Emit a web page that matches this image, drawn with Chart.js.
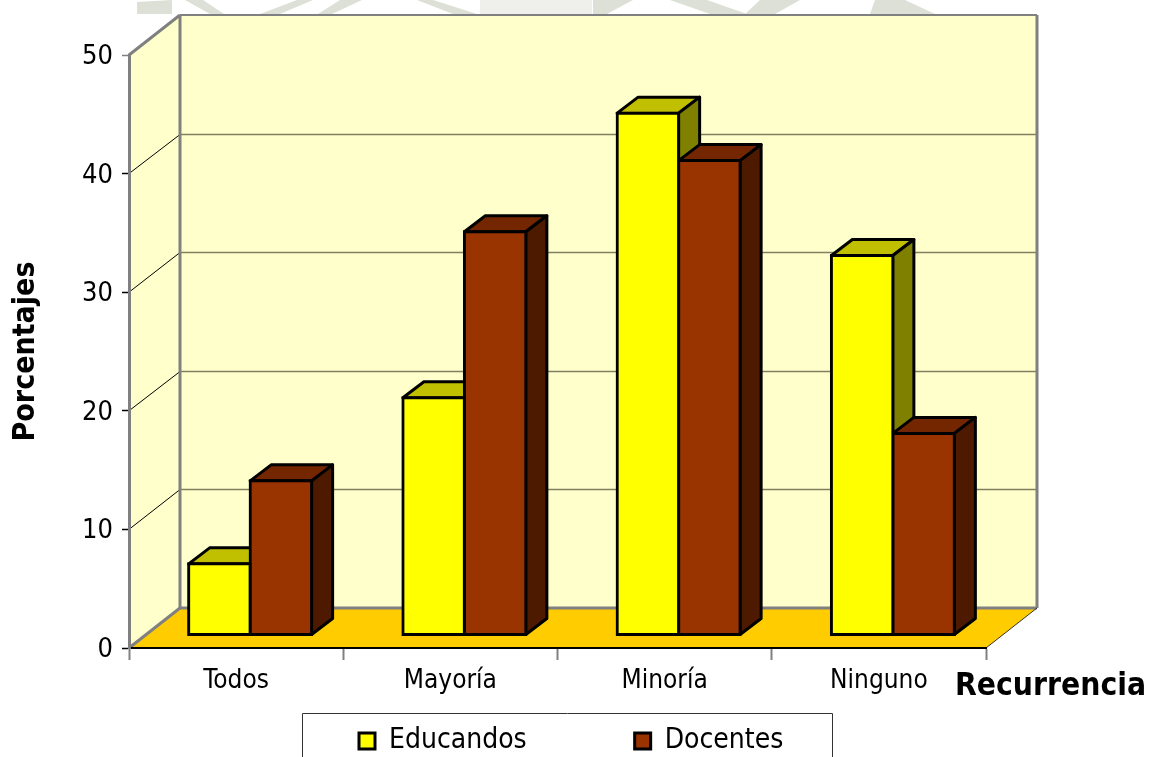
<!DOCTYPE html>
<html>
<head>
<meta charset="utf-8">
<style>
  html, body { margin: 0; padding: 0; background: #fff; }
  #wrap { width: 1149px; height: 757px; }
</style>
<script src="https://cdn.jsdelivr.net/npm/chart.js@4"></script>
</head>
<body>
<div id="wrap"><canvas id="chart" width="1149" height="757"></canvas></div>
<script>
const categories = ['Todos', 'Mayoría', 'Minoría', 'Ninguno']
const educandos = [6, 20, 44, 32]
const docentes = [13, 34, 40, 17]
const yTicks = [0, 10, 20, 30, 40, 50]
const xTitle = 'Recurrencia'
const yTitle = 'Porcentajes'

const fontName = '"DejaVu Sans Condensed", "DejaVu Sans", sans-serif'

// oblique offset of the back wall and of the bars inside the floor
const wall = { dx: 51, dy: -40 }
const barShift = { dx: 14, dy: -13 }
const depth = { dx: 21, dy: -16 }

const faces = [
  { top: '#c0c000', side: '#808000' },
  { top: '#732600', side: '#4d1a00' }
]

// faint scanned page pattern showing above the plot
const pageMarks = [
  [[137, 2], [172, 0], [172, 14], [137, 14]],
  [[185, 0], [203, 0], [224, 14], [210, 14]],
  [[297, 0], [313, 0], [280, 14], [260, 14]],
  [[340, 0], [362, 0], [332, 14], [318, 14]],
  [[417, 0], [433, 0], [477, 14], [453, 14]],
  [[593, 0], [633, 0], [607, 14], [593, 14]],
  [[670, 0], [707, 0], [747, 14], [710, 14]],
  [[760, 0], [800, 0], [775, 14], [745, 14]],
  [[875, 0], [905, 0], [935, 14], [870, 14]]
]
const pagePanel = [[480, 0], [592, 0], [592, 14], [480, 14]]

function poly(ctx, pts, fill, stroke, width) {
  ctx.beginPath()
  pts.forEach((p, i) => i ? ctx.lineTo(p[0], p[1]) : ctx.moveTo(p[0], p[1]))
  ctx.closePath()
  if (fill) { ctx.fillStyle = fill; ctx.fill() }
  if (stroke) { ctx.strokeStyle = stroke; ctx.lineWidth = width; ctx.lineJoin = 'round'; ctx.stroke() }
}

function line(ctx, x1, y1, x2, y2, color, width) {
  ctx.beginPath()
  ctx.moveTo(x1, y1)
  ctx.lineTo(x2, y2)
  ctx.strokeStyle = color
  ctx.lineWidth = width
  ctx.stroke()
}

const walls = {
  id: 'walls',
  beforeDraw(chart) {
    const ctx = chart.ctx
    const { left, right } = chart.chartArea
    const y = chart.scales.y
    const top = y.getPixelForValue(50)
    const base = y.getPixelForValue(0)
    const bx = wall.dx, by = wall.dy
    ctx.save()
    pageMarks.forEach(m => poly(ctx, m, '#dde0d7'))
    poly(ctx, pagePanel, '#eff0eb')
    poly(ctx, [[left + bx, top + by], [right + bx, top + by], [right + bx, base + by], [left + bx, base + by]], '#ffffcc')
    poly(ctx, [[left, top], [left + bx, top + by], [left + bx, base + by], [left, base]], '#ffffcc')
    poly(ctx, [[left, base], [left + bx, base + by], [right + bx, base + by], [right, base]], '#ffcc00')
    yTicks.slice(1, -1).forEach(v => {
      const py = y.getPixelForValue(v)
      const gy = Math.round(py + by) + 0.5
      line(ctx, left, py, left + bx, gy, '#000', 1)
      line(ctx, left + bx, gy, right + bx, gy, '#808060', 1.5)
    })
    line(ctx, left, top, left + bx, top + by, '#808080', 3)
    line(ctx, left + bx, top + by, right + bx, top + by, '#808080', 2)
    line(ctx, left + bx, top + by, left + bx, base + by, '#808080', 3)
    line(ctx, right + bx, top + by, right + bx, base + by, '#808080', 3)
    line(ctx, left + bx, base + by, right + bx, base + by, '#808080', 3)
    line(ctx, left, base, left + bx, base + by, '#808080', 3)
    line(ctx, right, base, right + bx, base + by, '#333', 1)
    ctx.restore()
  },
  beforeDatasetsDraw(chart) {
    // top and side faces, left series first so the right one sits over it
    const ctx = chart.ctx
    const { dx, dy } = depth
    ctx.save()
    ctx.translate(barShift.dx, barShift.dy)
    faces.forEach((c, i) => {
      chart.getDatasetMeta(i).data.forEach(bar => {
        const l = bar.x - bar.width / 2
        const r = bar.x + bar.width / 2
        poly(ctx, [[l, bar.y], [l + dx, bar.y + dy], [r + dx, bar.y + dy], [r, bar.y]], c.top, '#000', 3)
        poly(ctx, [[r, bar.y], [r + dx, bar.y + dy], [r + dx, bar.base + dy], [r, bar.base]], c.side, '#000', 3)
      })
    })
    ctx.restore()
  },
  beforeDatasetDraw(chart) {
    chart.ctx.save()
    chart.ctx.translate(barShift.dx, barShift.dy)
  },
  afterDatasetDraw(chart) {
    chart.ctx.restore()
  },
  beforeLayout(chart) {
    // the item gap comes from labels.padding, so keep it out of the reserved height
    const lg = chart.legend
    if (lg && !lg._patched) {
      const fit = lg.fit
      lg.fit = function () { fit.call(this); this.height = 0 }
      lg._patched = true
    }
  },
  afterLayout(chart) {
    const lg = chart.legend
    const pad = lg.options.labels.padding
    lg.top = 727 - pad
    lg.left = 359 - pad
    lg.right = 1149
  },
  afterDraw(chart) {
    const ctx = chart.ctx
    ctx.save()
    ctx.fillStyle = '#000'
    ctx.font = 'bold 31.5px ' + fontName
    ctx.textAlign = 'left'
    ctx.textBaseline = 'alphabetic'
    ctx.fillText(xTitle, 955, 695)
    ctx.strokeStyle = '#333'
    ctx.lineWidth = 1
    ctx.beginPath()
    ctx.moveTo(302.5, 757)
    ctx.lineTo(302.5, 713.5)
    ctx.lineTo(832.5, 713.5)
    ctx.lineTo(832.5, 757)
    ctx.stroke()
    ctx.restore()
  }
}

new Chart(document.getElementById('chart'), {
  type: 'bar',
  data: {
    labels: categories,
    datasets: [
      { label: 'Educandos', data: educandos, backgroundColor: '#ffff00' },
      { label: 'Docentes', data: docentes, backgroundColor: '#993300' }
    ]
  },
  plugins: [walls],
  options: {
    responsive: false,
    animation: false,
    layout: { padding: { left: 0, top: 55, right: 163, bottom: 0 } },
    datasets: {
      bar: {
        categoryPercentage: 0.574,
        barPercentage: 1,
        borderColor: '#000',
        borderWidth: 3,
        borderSkipped: false,
        inflateAmount: 1.5,
        clip: false
      }
    },
    scales: {
      x: {
        afterFit: s => { s.height = 109 },
        grid: { display: true, drawOnChartArea: false, tickLength: 12, tickColor: '#808080', tickWidth: 2 },
        border: { color: '#000', width: 2 },
        ticks: { color: '#000', font: { family: fontName, size: 26 }, padding: 6, maxRotation: 0 }
      },
      y: {
        min: 0,
        max: 50,
        afterFit: s => { s.width = 129 },
        afterBuildTicks: s => { s.ticks = yTicks.map(v => ({ value: v })) },
        title: {
          display: true,
          text: yTitle,
          color: '#000',
          font: { family: fontName, size: 30, weight: 'bold' },
          padding: { top: 8, bottom: 0 }
        },
        grid: {
          display: true,
          drawOnChartArea: false,
          tickLength: 7,
          tickColor: c => (c.tick && c.tick.value === 50) ? '#808080' : '#000',
          tickWidth: 1.5
        },
        border: { color: '#808080', width: 3 },
        ticks: { color: '#000', font: { family: fontName, size: 27 }, padding: 9, labelOffset: 2 }
      }
    },
    plugins: {
      tooltip: { enabled: false },
      legend: {
        position: 'bottom',
        align: 'start',
        labels: {
          color: '#000',
          font: { family: fontName, size: 28 },
          boxWidth: 16,
          boxHeight: 16,
          padding: 108
        }
      }
    }
  }
})
</script>
</body>
</html>
